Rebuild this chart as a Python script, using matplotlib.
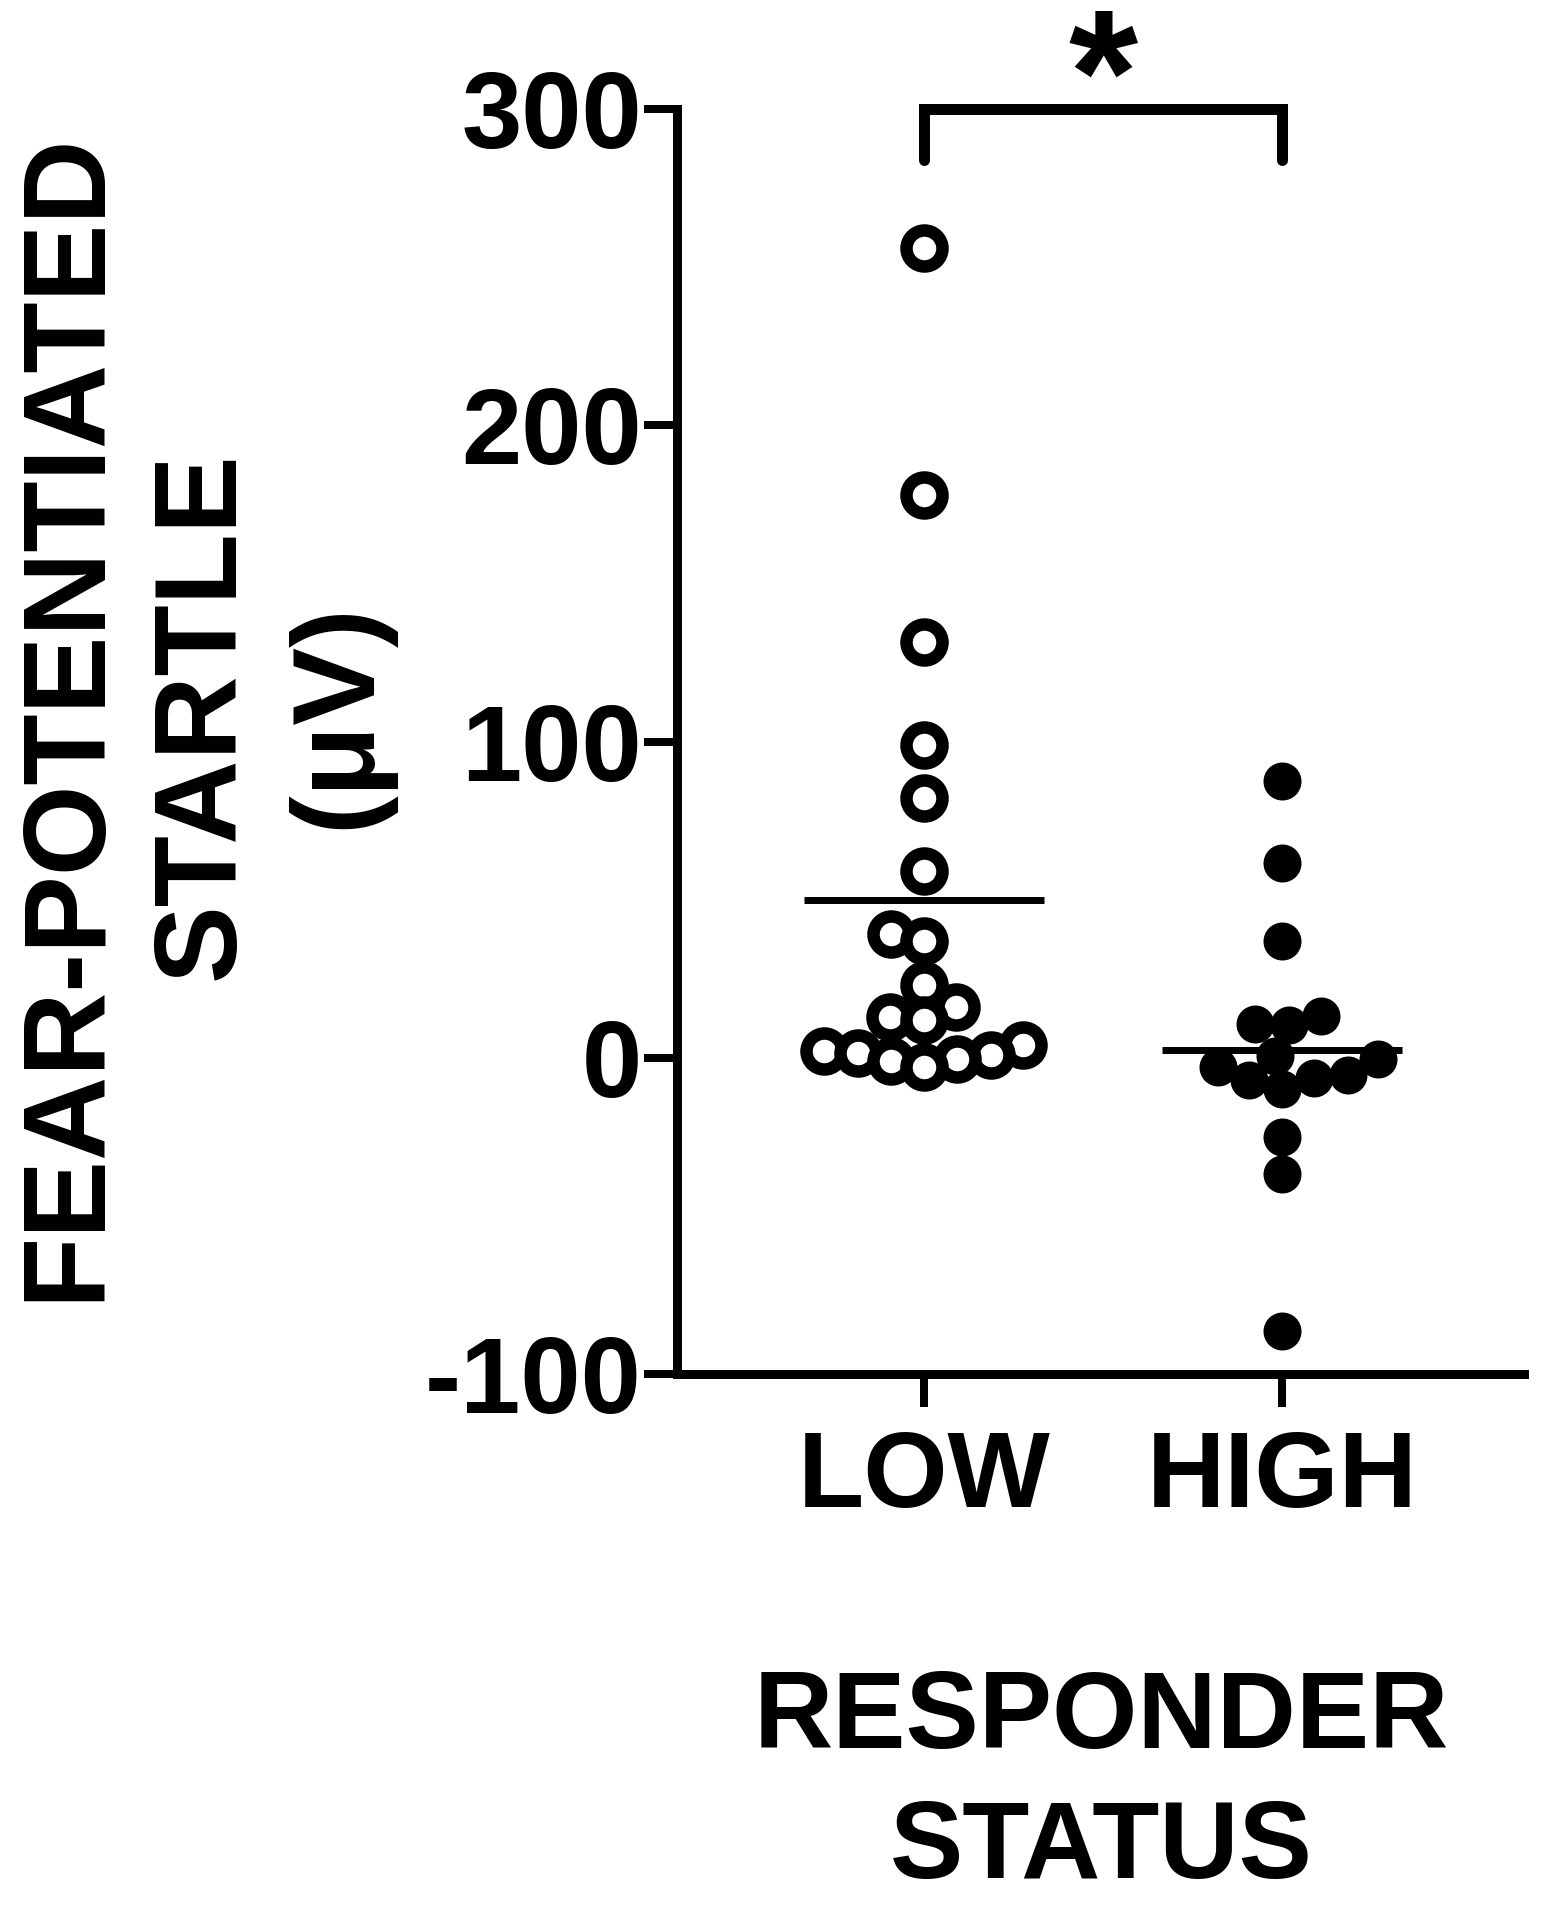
import numpy as np
import matplotlib
matplotlib.use("Agg")
import matplotlib.pyplot as plt
from matplotlib.transforms import blended_transform_factory

plt.rcParams['font.family'] = ['Liberation Sans', 'DejaVu Sans']
plt.rcParams['font.weight'] = 'bold'

# ---- data ----
categories = ["LOW", "HIGH"]
low_values = [256, 178, 131.5, 99, 82, 59, 39, 37, 23, 16, 13, 12,
              4, 2, 1.5, 1, -0.5, -1, -3]
high_values = [87.6, 61.5, 37.0, 13.2, 10.3, 10.6, 0.5, -0.4,
               -3, -5.5, -6.5, -7, -10, -25, -36.8, -86.5]
y_ticks = [-100, 0, 100, 200, 300]
y_label = "FEAR-POTENTIATED\nSTARTLE\n(μV)"
x_label = "RESPONDER\nSTATUS"
sig_text = "*"

W, H = 1549, 1920
DPI = 100
fig = plt.figure(figsize=(W / DPI, H / DPI), dpi=DPI)
ax_left, ax_right, ax_top, ax_bot = 677, 1524, 109, 1374
ax = fig.add_axes([ax_left / W, 1 - ax_bot / H,
                   (ax_right - ax_left) / W, (ax_bot - ax_top) / H])
ax.set_ylim(-100, 300)
xlo, xhi = -0.69, 1.676
ax.set_xlim(xlo, xhi)

# pixel scales
px_per_y = (ax_bot - ax_top) / 400.0
px_per_x = (ax_right - ax_left) / (xhi - xlo)


def swarm_offsets(vals, d):
    """Greedy beeswarm in pixel space; returns x offsets in data units."""
    vals = np.asarray(vals, float)
    ys = vals * px_per_y
    order = np.argsort(vals)
    placed = []
    offs = np.zeros(len(vals))
    for i in order:
        y = ys[i]
        cands = [0.0]
        for xj, yj in placed:
            dy = abs(y - yj)
            if dy < d:
                dx = np.sqrt(d * d - dy * dy)
                cands += [xj - dx, xj + dx]
        cands = sorted(cands, key=lambda c: (abs(c), c))
        for c in cands:
            ok = all((c - xj) ** 2 + (y - yj) ** 2 >= d * d - 1e-6
                     for xj, yj in placed)
            if ok:
                placed.append((c, y))
                offs[i] = c
                break
    return offs / px_per_x


d_px = 34
low_x = 0 + swarm_offsets(low_values, d_px)
high_x = 1 + swarm_offsets(high_values, d_px)

pt = 72.0 / DPI  # points per pixel
ax.plot(low_x, low_values, linestyle='none', marker='o', markersize=36 * pt,
        markerfacecolor='white', markeredgecolor='black',
        markeredgewidth=12.5 * pt, zorder=3, clip_on=False)
ax.plot(high_x, high_values, linestyle='none', marker='o', markersize=38 * pt,
        markerfacecolor='black', markeredgecolor='black',
        markeredgewidth=0, zorder=3, clip_on=False)

# mean lines
hw = 0.335
for xc, vals in zip([0, 1], [low_values, high_values]):
    m = np.mean(vals)
    ax.plot([xc - hw, xc + hw], [m, m], color='black', lw=7 * pt,
            solid_capstyle='butt', zorder=4)

# axes styling
for s in ['top', 'right']:
    ax.spines[s].set_visible(False)
for s in ['left', 'bottom']:
    ax.spines[s].set_linewidth(9 * pt)
ax.set_yticks(y_ticks)
ax.set_yticklabels([str(v) for v in y_ticks])
ax.set_xticks([0, 1])
ax.set_xticklabels(categories)
ax.tick_params(axis='both', length=33 * pt, width=8 * pt, labelsize=78,
               direction='out')
ax.tick_params(axis='y', pad=1.5)
ax.tick_params(axis='x', pad=16)
for lab in ax.get_xticklabels() + ax.get_yticklabels():
    lab.set_fontweight('bold')

# significance bracket
ax.plot([0, 0, 1, 1], [284, 300, 300, 284], color='black', lw=11 * pt,
        solid_capstyle='round', solid_joinstyle='miter', clip_on=False,
        zorder=5)
tr = blended_transform_factory(ax.transData, fig.transFigure)
fig.text(0.5, 1 - 134 / H, sig_text, transform=tr, ha='center',
         va='baseline', fontsize=128, fontweight='bold')

# axis labels
fig.text(203 / W, 1 - 716 / H, y_label, rotation=90, ha='center',
         va='center', multialignment='center', fontsize=84,
         fontweight='bold', linespacing=1.31)
fig.text(1101 / W, 1 - 1785 / H, x_label, ha='center', va='center',
         multialignment='center', fontsize=79, fontweight='bold',
         linespacing=1.35)

fig.savefig("out.png", dpi=DPI, facecolor='white')
